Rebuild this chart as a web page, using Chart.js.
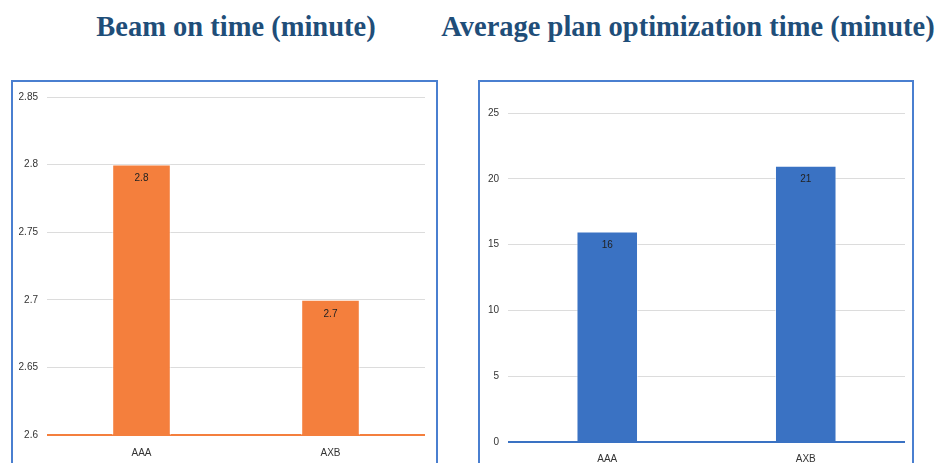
<!DOCTYPE html>
<html>
<head>
<meta charset="utf-8">
<script src="https://cdn.jsdelivr.net/npm/chart.js@4/dist/chart.umd.min.js"></script>
<style>
  html, body { margin: 0; padding: 0; background: #ffffff; overflow: hidden; }
  body { width: 937px; height: 463px; position: relative; }
  .title { position: absolute; top: 11px; font-family: "Liberation Serif", "Times New Roman", serif; font-weight: bold; font-size: 28.5px; color: #1f4e79; white-space: nowrap; transform: translateX(-50%); }
  .box { position: absolute; border: 2px solid #4a7fd0; box-sizing: border-box; }
  .cv { position: absolute; }
</style>
</head>
<body>
<div class="title" id="t1" style="left:236px;">Beam on time (minute)</div>
<div class="title" id="t2" style="left:688px;">Average plan optimization time (minute)</div>
<div class="box" style="left:11px; top:80px; width:427px; height:400px;"></div>
<div class="box" style="left:478px; top:80px; width:436px; height:400px;"></div>
<div class="cv" style="left:13px; top:82px; width:423px; height:381px;"><canvas id="c1"></canvas></div>
<div class="cv" style="left:480px; top:82px; width:432px; height:381px;"><canvas id="c2"></canvas></div>
<script>
const categories = ["AAA", "AXB"];
const beamOnTime = [2.8, 2.7];
const optimizationTime = [16, 21];
const beamTicks = { min: 2.6, max: 2.85, step: 0.05 };
const optTicks = { min: 0, max: 25, step: 5 };

const labelPlugin = {
  id: 'barLabels',
  afterDatasetsDraw(chart) {
    const ctx = chart.ctx;
    const meta = chart.getDatasetMeta(0);
    ctx.save();
    ctx.font = '10px "Liberation Sans", Arial, sans-serif';
    ctx.fillStyle = '#222';
    ctx.textAlign = 'center';
    ctx.textBaseline = 'middle';
    meta.data.forEach((bar, i) => {
      ctx.fillText(String(chart.data.datasets[0].data[i]), bar.x, bar.y + 14);
    });
    ctx.restore();
  }
};

function makeChart(id, values, color, tk, layout) {
  return new Chart(document.getElementById(id), {
    type: 'bar',
    data: {
      labels: categories,
      datasets: [{
        data: values,
        backgroundColor: color,
        borderColor: 'rgba(255,255,255,0.6)',
        borderWidth: 1,
        categoryPercentage: 1.0,
        barPercentage: 0.31
      }]
    },
    options: {
      responsive: false,
      animation: false,
      maintainAspectRatio: false,
      devicePixelRatio: 1,
      layout: { padding: { left: 0, right: layout.padRight, top: layout.padTop, bottom: 0 } },
      plugins: { legend: { display: false }, tooltip: { enabled: false } },
      scales: {
        x: {
          grid: { display: false, drawTicks: false },
          border: { display: false },
          ticks: { color: '#333', font: { family: '"Liberation Sans", Arial, sans-serif', size: 10 }, padding: layout.xPad },
          afterFit(s) { s.height = layout.xHeight; }
        },
        y: {
          min: tk.min, max: tk.max,
          grid: {
            drawTicks: false,
            lineWidth: (c) => c.index === 0 ? 2 : 1,
            color: (c) => c.index === 0 ? color : '#dcdcdc'
          },
          border: { display: false },
          ticks: {
            stepSize: tk.step, color: '#333',
            font: { family: '"Liberation Sans", Arial, sans-serif', size: 10 }, padding: 9,
            callback: (v) => String(Number(Number(v).toFixed(4)))
          },
          afterFit(s) { s.width = layout.yWidth; }
        }
      }
    },
    plugins: [labelPlugin]
  });
}

function sizeCanvas(id, w, h) {
  const c = document.getElementById(id);
  c.width = w; c.height = h; c.style.width = w + 'px'; c.style.height = h + 'px';
}
sizeCanvas('c1', 423, 381);
sizeCanvas('c2', 432, 381);

makeChart('c1', beamOnTime, '#f47f3d', beamTicks, { padRight: 11, padTop: 14, xHeight: 28, xPad: 12, yWidth: 34 });
makeChart('c2', optimizationTime, '#3a72c3', optTicks, { padRight: 7, padTop: 31, xHeight: 21, xPad: 11, yWidth: 28 });
</script>
</body>
</html>
